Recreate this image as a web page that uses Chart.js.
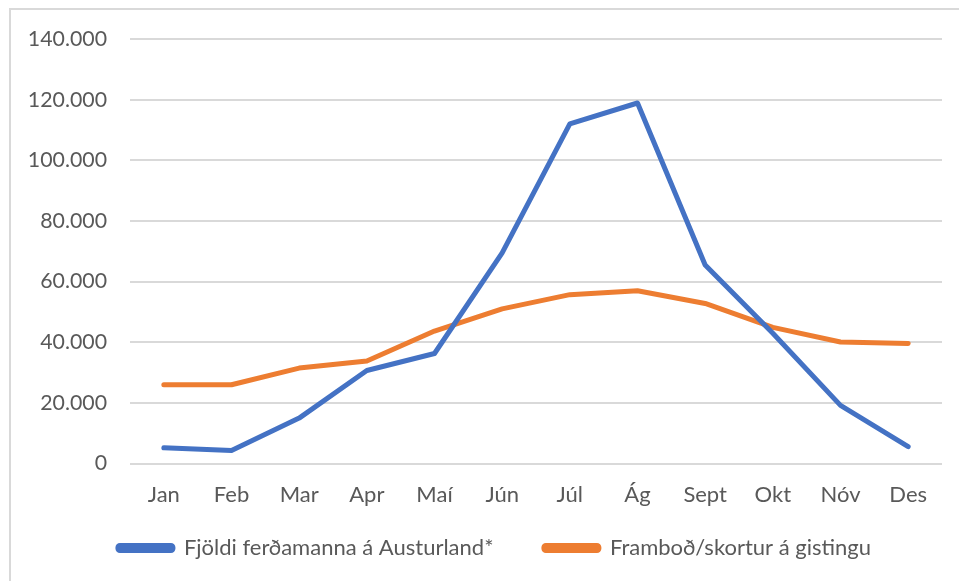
<!DOCTYPE html>
<html lang="is">
<head>
  <meta charset="UTF-8">
  <title>Fjöldi ferðamanna og framboð á gistingu</title>
  <script src="https://cdn.jsdelivr.net/npm/chart.js"></script>
  <style>
    html, body { margin: 0; padding: 0; background: #fff; overflow: hidden; }
    #frame {
      position: absolute; left: 9px; top: 8px; width: 1000px; height: 700px;
      border: 2px solid #d9d9d9; box-sizing: border-box;
    }
    #wrap { position: absolute; left: 0; top: 0; width: 959px; height: 581px; }
  </style>
</head>
<body>
  <div id="frame"></div>
  <div id="wrap"><canvas id="lineChart" width="959" height="581"></canvas></div>

  <script>
    // Monthly data
    const months = ['Jan', 'Feb', 'Mar', 'Apr', 'Maí', 'Jún', 'Júl', 'Ág', 'Sept', 'Okt', 'Nóv', 'Des'];
    const visitors = [5200, 4300, 15000, 30700, 36300, 69500, 112000, 118900, 65500, 43000, 19200, 5600];
    const lodging = [26000, 26000, 31500, 33800, 43700, 51000, 55700, 57000, 52800, 44900, 40100, 39600];
    const seriesNames = ['Fjöldi ferðamanna á Austurland*', 'Framboð/skortur á gistingu'];

    const textColor = '#595959';
    const gridColor = '#d9d9d9';
    const fontFamily = 'Lato, "Open Sans", sans-serif';

    // 140000 -> "140.000"
    function formatIs(v) {
      return String(v).replace(/\B(?=(\d{3})+(?!\d))/g, '.');
    }

    // let the y tick labels extend into the left padding instead of being clipped
    const unclipY = {
      id: 'unclipY',
      afterLayout(chart) { chart.scales.y.left = 0; }
    };

    const ctx = document.getElementById('lineChart').getContext('2d');
    new Chart(ctx, {
      type: 'line',
      data: {
        labels: months,
        datasets: [
          {
            label: seriesNames[0],
            data: visitors,
            borderColor: '#4472C4',
            backgroundColor: '#4472C4',
            borderWidth: 5,
            borderCapStyle: 'round',
            borderJoinStyle: 'round',
            pointRadius: 0,
            tension: 0
          },
          {
            label: seriesNames[1],
            data: lodging,
            borderColor: '#ED7D31',
            backgroundColor: '#ED7D31',
            borderWidth: 5,
            borderCapStyle: 'round',
            borderJoinStyle: 'round',
            pointRadius: 0,
            tension: 0
          }
        ]
      },
      options: {
        responsive: false,
        animation: false,
        layout: { padding: { left: 47, right: 17, top: 39, bottom: 12 } },
        scales: {
          x: {
            offset: true,
            grid: { display: false, drawTicks: false },
            border: { display: false },
            ticks: { color: textColor, font: { family: fontFamily, size: 22 }, padding: 18 }
          },
          y: {
            min: 0,
            max: 140000,
            afterFit: function(scale) { scale.width = 83; },
            grid: { color: gridColor, lineWidth: 2, drawTicks: false },
            border: { display: false },
            ticks: {
              stepSize: 20000,
              color: textColor,
              font: { family: fontFamily, size: 21.3 },
              padding: 23,
              callback: function(value) { return formatIs(value); }
            }
          }
        },
        plugins: {
          legend: {
            position: 'bottom',
            labels: {
              color: textColor,
              font: { family: fontFamily, size: 22 },
              boxWidth: 55,
              boxHeight: 5,
              useBorderRadius: true,
              borderRadius: 2,
              padding: 11,
              generateLabels: function(chart) {
                const items = Chart.defaults.plugins.legend.labels.generateLabels(chart);
                // extra gap after the first entry, as in the original
                items[0].text += '       ';
                return items;
              }
            }
          },
          tooltip: { enabled: false }
        }
      },
      plugins: [unclipY]
    });
  </script>
</body>
</html>
